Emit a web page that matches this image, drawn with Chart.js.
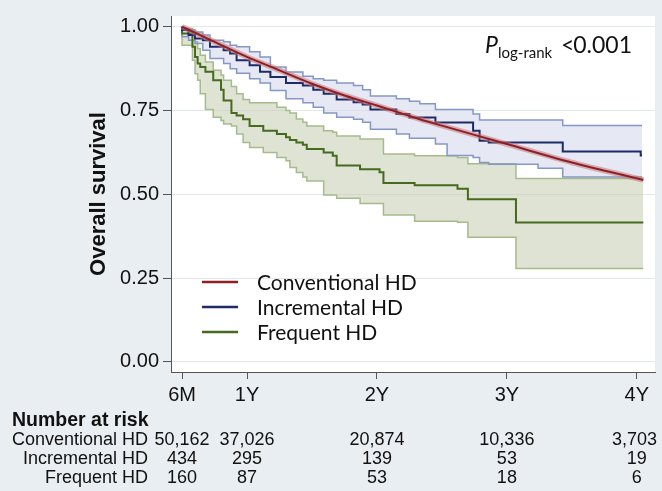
<!DOCTYPE html>
<html lang="en">
<head>
<meta charset="UTF-8" />
<title>Overall survival by HD schedule</title>
<script src="https://cdn.jsdelivr.net/npm/chart.js"></script>
<style>
  body { margin: 0; background: #e8eef1; }
  #wrap { width: 662px; height: 491px; }
</style>
</head>
<body>
<div id="wrap"><canvas id="km" width="662" height="491"></canvas></div>
<script>
// Kaplan-Meier curves, time in years
const convTime = [0.5, 0.75, 1.0, 1.25, 1.5, 1.75, 2.0, 2.33, 2.5, 3.0, 3.5, 4.05];
const convSurv = [1.0, 0.955, 0.91, 0.87, 0.83, 0.795, 0.765, 0.724, 0.705, 0.65, 0.595, 0.543];

const incrTime = [0.5, 0.55, 0.6, 0.66, 0.715, 0.82, 0.87, 0.92, 1.02, 1.1, 1.18, 1.3, 1.43, 1.51, 1.59, 1.69, 1.82, 1.89, 1.95, 2.15, 2.25, 2.33, 2.45, 2.54, 2.74, 2.79, 2.86, 3.24, 3.43, 3.66, 4.03, 4.04];
const incrSurv = [1.0, 0.99, 0.975, 0.965, 0.96, 0.94, 0.93, 0.92, 0.9, 0.885, 0.866, 0.85, 0.832, 0.825, 0.812, 0.8, 0.783, 0.775, 0.768, 0.753, 0.74, 0.729, 0.729, 0.714, 0.714, 0.69, 0.66, 0.655, 0.655, 0.628, 0.628, 0.616];
const incrHi = [1.0, 0.995, 0.99, 0.984, 0.975, 0.96, 0.955, 0.945, 0.94, 0.925, 0.91, 0.88, 0.865, 0.852, 0.845, 0.84, 0.832, 0.825, 0.812, 0.793, 0.785, 0.778, 0.77, 0.753, 0.753, 0.74, 0.722, 0.722, 0.722, 0.705, 0.705, 0.705];
const incrLo = [0.985, 0.97, 0.96, 0.95, 0.93, 0.905, 0.89, 0.875, 0.861, 0.845, 0.832, 0.81, 0.785, 0.773, 0.76, 0.743, 0.73, 0.724, 0.715, 0.694, 0.68, 0.667, 0.667, 0.65, 0.616, 0.61, 0.595, 0.59, 0.578, 0.552, 0.552, 0.552];

const freqTime = [0.5, 0.58, 0.6, 0.62, 0.64, 0.68, 0.74, 0.8, 0.82, 0.88, 0.92, 0.97, 1.02, 1.125, 1.23, 1.3, 1.33, 1.38, 1.43, 1.46, 1.59, 1.66, 1.69, 1.87, 2.02, 2.05, 2.29, 2.62, 2.7, 3.07, 3.43, 4.05];
const freqSurv = [1.0, 0.98, 0.94, 0.91, 0.89, 0.88, 0.866, 0.84, 0.812, 0.78, 0.743, 0.735, 0.724, 0.704, 0.69, 0.68, 0.67, 0.662, 0.655, 0.648, 0.635, 0.625, 0.615, 0.586, 0.575, 0.566, 0.534, 0.527, 0.517, 0.485, 0.416, 0.416];
const freqHi = [1.0, 0.995, 0.975, 0.955, 0.935, 0.915, 0.895, 0.87, 0.856, 0.84, 0.822, 0.8, 0.783, 0.773, 0.773, 0.76, 0.75, 0.743, 0.725, 0.715, 0.704, 0.69, 0.685, 0.674, 0.665, 0.665, 0.62, 0.615, 0.61, 0.591, 0.547, 0.547];
const freqLo = [0.98, 0.945, 0.9, 0.86, 0.84, 0.8, 0.753, 0.73, 0.72, 0.71, 0.704, 0.68, 0.655, 0.64, 0.625, 0.61, 0.6, 0.58, 0.565, 0.552, 0.54, 0.498, 0.498, 0.488, 0.473, 0.473, 0.438, 0.42, 0.417, 0.372, 0.279, 0.279];

const tickYears = [0.5, 1, 2, 3, 4];
const tickLabels = ['6M', '1Y', '2Y', '3Y', '4Y'];
const yTicks = [0, 0.25, 0.5, 0.75, 1];

const groupNames = ['Conventional HD', 'Incremental HD', 'Frequent HD'];
const riskConv = ['50,162', '37,026', '20,874', '10,336', '3,703'];
const riskIncr = ['434', '295', '139', '53', '19'];
const riskFreq = ['160', '87', '53', '18', '6'];

const RED = '#8e1f22', NAVY = '#1d2b66', OLIVE = '#466a1e';
const SANS = "'Liberation Sans', Arial, sans-serif";
const CAL = "Lato, 'Open Sans', sans-serif";

function pts(xs, ys) {
  return xs.map((x, i) => ({ x: x, y: ys[i] }));
}

const decor = {
  id: 'decor',
  beforeDraw(chart) {
    const { ctx, chartArea: a } = chart;
    ctx.save();
    ctx.fillStyle = '#ffffff';
    ctx.fillRect(a.left, a.top, a.right - a.left, a.bottom - a.top);
    ctx.restore();
  },
  afterDraw(chart) {
    const ctx = chart.ctx;
    const xs = chart.scales.x;
    ctx.save();

    // legend inside plot
    const legCols = [RED, NAVY, OLIVE];
    const legY = [282, 307, 332];
    ctx.font = '21px ' + CAL;
    ctx.textBaseline = 'middle';
    ctx.textAlign = 'left';
    for (let i = 0; i < 3; i++) {
      ctx.strokeStyle = legCols[i];
      ctx.lineWidth = 2.5;
      ctx.beginPath();
      ctx.moveTo(202, legY[i]);
      ctx.lineTo(238, legY[i]);
      ctx.stroke();
      ctx.fillStyle = '#111';
      ctx.fillText(groupNames[i], 257, legY[i] + 1);
    }

    // log-rank p value
    ctx.textBaseline = 'alphabetic';
    ctx.font = 'italic 23px ' + CAL;
    ctx.fillText('P', 485, 53);
    ctx.font = '15px ' + CAL;
    ctx.fillText('log-rank', 498, 58);
    ctx.font = '23px ' + CAL;
    ctx.fillText('<', 561, 53);
    ctx.textAlign = 'right';
    ctx.fillText('0.001', 632, 53);

    // number at risk table
    ctx.textBaseline = 'middle';
    ctx.textAlign = 'left';
    ctx.font = 'bold 19.5px ' + SANS;
    ctx.fillText('Number at risk', 12, 421);
    const rows = [riskConv, riskIncr, riskFreq];
    const rowY = [440, 459, 478];
    ctx.font = '18px ' + SANS;
    for (let r = 0; r < 3; r++) {
      ctx.textAlign = 'right';
      ctx.fillText(groupNames[r], 148, rowY[r]);
      ctx.textAlign = 'left';
      rows[r].forEach((txt, i) => {
        const w = ctx.measureText(txt).width;
        let x = xs.getPixelForValue(tickYears[i]) - w / 2;
        if (x + w > 657) x = 657 - w;
        ctx.fillText(txt, x, rowY[r]);
      });
    }
    ctx.restore();
  }
};

const stepLine = (label, xs, ys, color, width) => ({
  label: label,
  data: pts(xs, ys),
  borderColor: color,
  borderWidth: width,
  pointRadius: 0,
  stepped: 'after',
  fill: false
});

const incrHiSet = stepLine('Incremental HD upper', incrTime, incrHi, '#8597c4', 1.5);
incrHiSet.fill = { target: 5 };
incrHiSet.backgroundColor = 'rgba(214,218,236,0.6)';
const freqHiSet = stepLine('Frequent HD upper', freqTime, freqHi, '#a6bb8c', 1.5);
freqHiSet.fill = { target: 7 };
freqHiSet.backgroundColor = 'rgba(196,204,176,0.55)';

new Chart(document.getElementById('km'), {
  type: 'line',
  data: {
    datasets: [
      { label: 'Conventional HD', data: pts(convTime, convSurv), borderColor: RED, borderWidth: 2, pointRadius: 0, tension: 0.3, fill: false },
      { label: 'Conventional HD CI', data: pts(convTime, convSurv), borderColor: 'rgba(200,120,125,0.55)', borderWidth: 5.5, pointRadius: 0, tension: 0.3, fill: false },
      stepLine('Incremental HD', incrTime, incrSurv, NAVY, 2),
      stepLine('Frequent HD', freqTime, freqSurv, OLIVE, 2),
      incrHiSet,
      stepLine('Incremental HD lower', incrTime, incrLo, '#8597c4', 1.5),
      freqHiSet,
      stepLine('Frequent HD lower', freqTime, freqLo, '#a6bb8c', 1.5)
    ]
  },
  options: {
    responsive: false,
    animation: false,
    layout: { padding: { left: 86, top: 12, right: 7, bottom: 0 } },
    plugins: {
      legend: { display: false },
      tooltip: { enabled: false },
      filler: { drawTime: 'beforeDatasetsDraw' }
    },
    scales: {
      x: {
        type: 'linear',
        min: 0.415,
        max: 4.14,
        afterBuildTicks: s => { s.ticks = tickYears.map(v => ({ value: v })); },
        afterFit: s => { s.height = 119; },
        ticks: {
          callback: (v, i) => tickLabels[i],
          font: { family: SANS, size: 20 },
          color: '#111',
          padding: 4,
          maxRotation: 0,
          autoSkip: false
        },
        grid: { drawOnChartArea: false, tickLength: 7, tickColor: '#555' },
        border: { color: '#555' }
      },
      y: {
        min: -0.03,
        max: 1.032,
        afterBuildTicks: s => { s.ticks = yTicks.map(v => ({ value: v })); },
        afterFit: s => { s.width = 85; },
        ticks: {
          callback: v => v.toFixed(2),
          font: { family: SANS, size: 20 },
          color: '#111',
          padding: 4
        },
        grid: { color: '#e2e9ed', tickColor: '#555', tickLength: 8 },
        border: { color: '#555' },
        title: {
          display: true,
          text: 'Overall survival',
          font: { family: SANS, size: 22, weight: 'bold' },
          color: '#111',
          padding: 0
        }
      }
    }
  },
  plugins: [decor]
});
</script>
</body>
</html>
